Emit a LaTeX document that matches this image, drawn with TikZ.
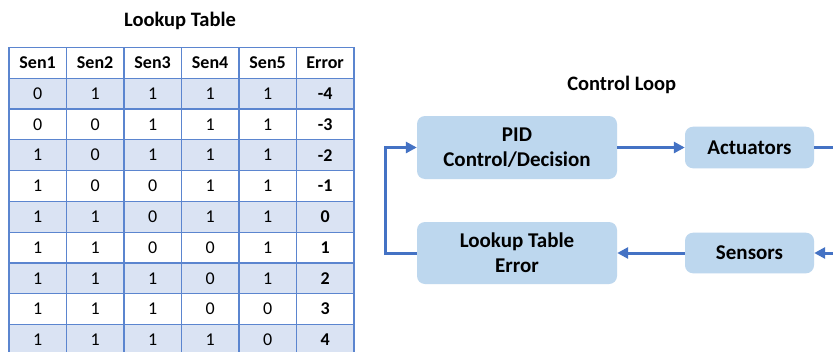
\documentclass[tikz,border=0pt]{standalone}
\usepackage{fontspec}
\setmainfont{Carlito}
\usetikzlibrary{arrows.meta}
\definecolor{lineblue}{HTML}{4472C4}
\definecolor{boxfill}{HTML}{BDD7EE}
\definecolor{rowfill}{HTML}{DAE3F3}
\definecolor{gridblue}{HTML}{5B85CF}
\begin{document}
\begin{tikzpicture}[x=1pt,y=-1pt,
  cell/.style={draw=gridblue, line width=1.2pt, minimum width=57.5pt, minimum height=30.8pt,
    inner sep=0pt, anchor=north west, font=\fontsize{18}{20}\selectfont},
  hcell/.style={cell, fill=white, font=\fontsize{18}{20}\selectfont\bfseries},
  title/.style={font=\fontsize{20.5}{24}\selectfont\bfseries, inner sep=0pt},
  blk/.style={fill=boxfill, rounded corners=8pt, align=center, inner sep=0pt,
    font=\fontsize{21}{25}\selectfont\bfseries},
  arr/.style={draw=lineblue, line width=3pt, -{Triangle[length=11pt,width=11pt]}},
  ln/.style={draw=lineblue, line width=3pt}
]
\useasboundingbox (0,0) rectangle (833,351);
\clip (0,0) rectangle (833,351);
\fill[white] (0,0) rectangle (833,351);
% table title
\node[title] (ttitle) at (180,21) {Lookup Table};
% header
\foreach \h [count=\c from 0] in {Sen1,Sen2,Sen3,Sen4,Sen5,Error}
  \node[hcell] (h-\c) at (8.3+57.5*\c, 46.7) {\h};
% data rows
\foreach \a/\b/\cc/\d/\e/\err [count=\r from 1] in
  {0/1/1/1/1/-4, 0/0/1/1/1/-3, 1/0/1/1/1/-2, 1/0/0/1/1/-1, 1/1/0/1/1/0,
   1/1/0/0/1/1, 1/1/1/0/1/2, 1/1/1/0/0/3, 1/1/1/1/0/4}{
  \pgfmathsetmacro{\yy}{46.7+30.8*\r}
  \ifodd\r \def\rf{rowfill}\else\def\rf{white}\fi
  \node[cell, fill=\rf] (c-\r-0) at (8.3, \yy) {\a};
  \node[cell, fill=\rf] (c-\r-1) at (65.8, \yy) {\b};
  \node[cell, fill=\rf] (c-\r-2) at (123.3, \yy) {\cc};
  \node[cell, fill=\rf] (c-\r-3) at (180.8, \yy) {\d};
  \node[cell, fill=\rf] (c-\r-4) at (238.3, \yy) {\e};
  \node[cell, fill=\rf, font=\fontsize{18}{20}\selectfont\bfseries] (c-\r-5) at (295.8, \yy) {\err};
}
% control loop
\node[title] (ctitle) at (621.7,85) {Control Loop};
\node[blk, minimum width=200pt, minimum height=63pt] (pid) at (517,147.5) {PID\\Control/Decision};
\node[blk, minimum width=129pt, minimum height=41.6pt] (act) at (749.5,147.5) {Actuators};
\node[blk, minimum width=129pt, minimum height=40.6pt] (sen) at (749.5,253) {Sensors};
\node[blk, minimum width=200pt, minimum height=62pt] (lut) at (517,253) {Lookup Table\\Error};
\coordinate (outR) at (845,147.5);
\coordinate (inR) at (845,253);
\draw[arr] (pid.east) -- (act.west);
\draw[ln] (act.east) -- (outR);
\draw[arr] (inR) -- (sen.east);
\draw[arr] (sen.west) -- (lut.east);
\draw[arr] (lut.west) -- ++(-31,0) |- (pid.west);
\end{tikzpicture}
\end{document}
